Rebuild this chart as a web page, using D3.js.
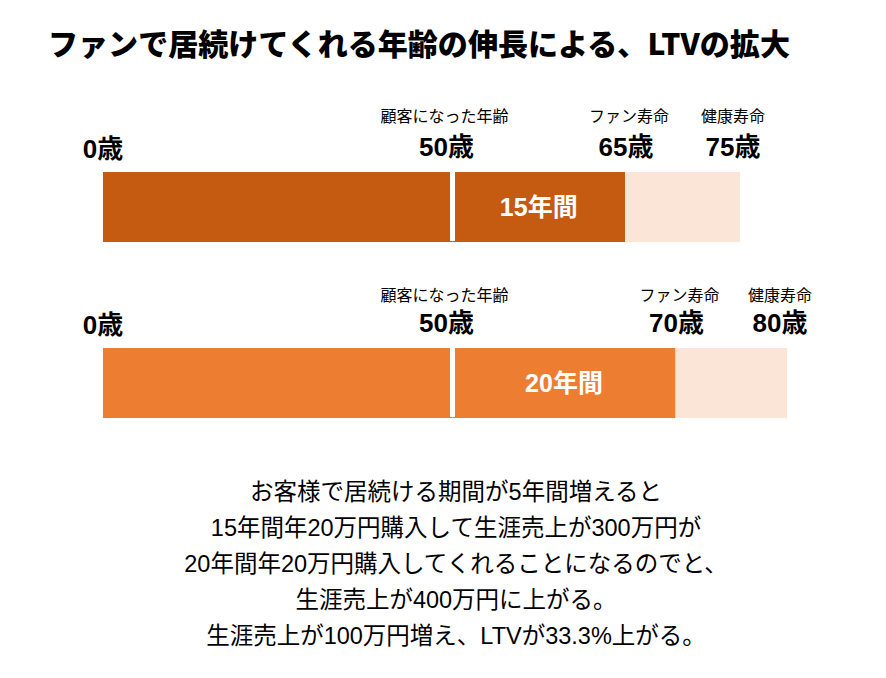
<!DOCTYPE html>
<html>
<head>
<meta charset="utf-8">
<script src="https://cdn.jsdelivr.net/npm/d3@7"></script>
<style>
  body { margin: 0; background: #fff; }
  text { font-family: "Liberation Sans", "Noto Sans CJK JP", sans-serif; }
</style>
</head>
<body>
<div id="chart"></div>
<script>
// chart data
const title = 'ファンで居続けてくれる年齢の伸長による、LTVの拡大';
const customerAge = [50, 50];     // 顧客になった年齢
const fanAge = [65, 70];          // ファン寿命
const healthAge = [75, 80];       // 健康寿命
const markerNames = ['顧客になった年齢', 'ファン寿命', '健康寿命'];
const noteLines = [
  'お客様で居続ける期間が5年間増えると',
  '15年間年20万円購入して生涯売上が300万円が',
  '20年間年20万円購入してくれることになるのでと、',
  '生涯売上が400万円に上がる。',
  '生涯売上が100万円増え、LTVが33.3%上がる。'
];

// layout
const width = 886, height = 678;
const barLeft = 103;
const barEnds = [740, 787];
const barTops = [172, 348];
const barH = 70;
const darkColors = ['#C55A11', '#ED7D31'];
const lightColor = '#FBE5D6';
// small nudges so labels sit where the original slide put them
const ageNudge = [0, -6, 1, -7];
const nameNudge = [-8, 4, -7];

const svg = d3.select('#chart').append('svg')
  .attr('width', width)
  .attr('height', height);

// title
svg.append('text')
  .attr('x', 48)
  .attr('y', 55)
  .attr('textLength', 742)
  .attr('lengthAdjust', 'spacingAndGlyphs')
  .style('font-family', '"Noto Sans CJK JP", sans-serif')
  .style('font-size', '30px')
  .style('font-weight', 900)
  .text(title);

customerAge.forEach((c, i) => {
  // the drawing is not to scale: 0-50 is compressed
  const x = d3.scaleLinear()
    .domain([0, c, healthAge[i]])
    .range([barLeft, 452.5, barEnds[i]]);

  const g = svg.append('g')
    .attr('transform', `translate(0,${barTops[i]})`);

  const segs = [
    { from: 0, to: c, fill: darkColors[i] },
    { from: c, to: fanAge[i], fill: darkColors[i] },
    { from: fanAge[i], to: healthAge[i], fill: lightColor }
  ];

  g.selectAll('rect.seg')
    .data(segs)
    .enter()
    .append('rect')
    .attr('class', 'seg')
    .attr('x', d => x(d.from))
    .attr('y', 0)
    .attr('width', d => x(d.to) - x(d.from))
    .attr('height', barH)
    .attr('fill', d => d.fill);

  // white gap at the customer age
  g.append('line')
    .attr('x1', x(c)).attr('x2', x(c))
    .attr('y1', 0).attr('y2', barH - 1)
    .attr('stroke', '#fff')
    .attr('stroke-width', 5);

  // period label inside bar
  g.append('text')
    .attr('x', (x(c) + x(fanAge[i])) / 2)
    .attr('y', barH / 2 + 9)
    .attr('text-anchor', 'middle')
    .attr('fill', '#fff')
    .style('font-size', '25px')
    .style('font-weight', 'bold')
    .text(`${fanAge[i] - c}年間`);

  // age labels above bar
  const ages = [0, c, fanAge[i], healthAge[i]];
  g.selectAll('text.age')
    .data(ages)
    .enter()
    .append('text')
    .attr('class', 'age')
    .attr('x', (d, j) => x(d) + ageNudge[j])
    .attr('y', d => d === 0 ? -14 : -16)
    .attr('text-anchor', 'middle')
    .style('font-size', '26px')
    .style('font-weight', 'bold')
    .text(d => `${d}歳`);

  g.selectAll('text.name')
    .data(ages.slice(1))
    .enter()
    .append('text')
    .attr('class', 'name')
    .attr('x', (d, j) => x(d) + nameNudge[j])
    .attr('y', i === 0 ? -50 : -47)
    .attr('text-anchor', 'middle')
    .style('font-family', '"Noto Sans CJK JP", sans-serif')
    .style('font-size', '16px')
    .style('font-weight', 400)
    .text((d, j) => markerNames[j]);
});

// explanation text
svg.append('g')
  .selectAll('text')
  .data(noteLines)
  .enter()
  .append('text')
  .attr('x', 456)
  .attr('y', (d, i) => 500 + i * 36)
  .attr('text-anchor', 'middle')
  .style('font-size', '23.5px')
  .text(d => d);
</script>
</body>
</html>
